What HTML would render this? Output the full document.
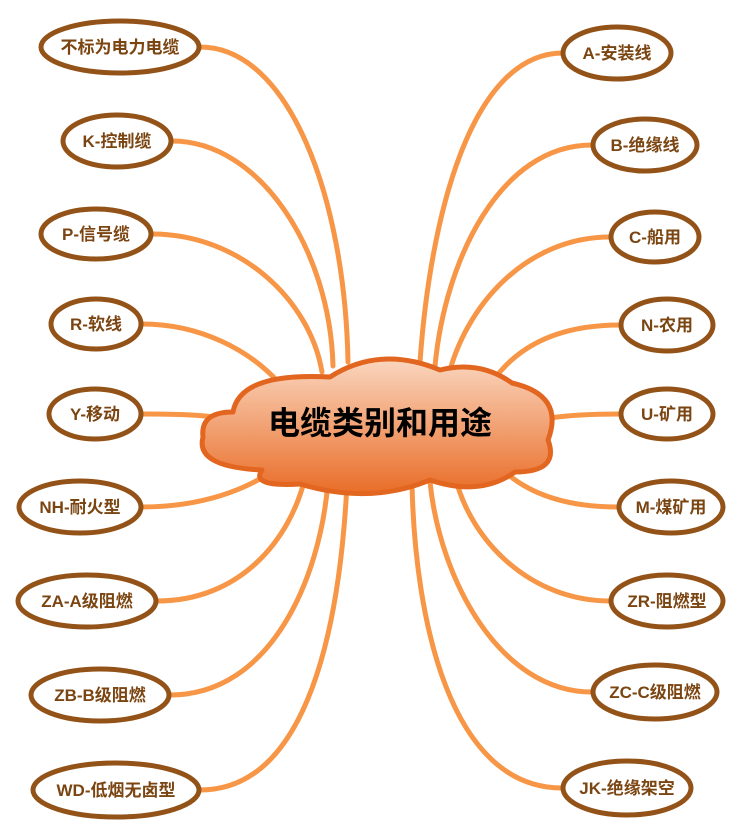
<!DOCTYPE html>
<html><head><meta charset="utf-8"><style>
body{margin:0;background:#fff}
svg{display:block}
text{font-family:"Liberation Sans","Noto Sans CJK SC",sans-serif;font-weight:bold}
</style></head><body>
<svg width="749" height="840" viewBox="0 0 749 840">
<defs>
<linearGradient id="g" x1="0" y1="0" x2="0" y2="1">
<stop offset="0" stop-color="#fad6bf"/><stop offset="1" stop-color="#e96d28"/>
</linearGradient>
</defs>
<g fill="none" stroke="#f79646" stroke-width="5" stroke-linecap="round">
<path d="M200,47 C290,47 345,200 348,362"/>
<path d="M172,141 C260,141 330,250 333,366"/>
<path d="M152,234 C240,234 310,300 322,372"/>
<path d="M142,324 C200,324 250,350 280,384"/>
<path d="M142,414 C180,414 200,415 225,418"/>
<path d="M142,507 C200,507 250,490 280,465"/>
<path d="M157,601 C240,601 290,540 305,478"/>
<path d="M170,695 C270,695 320,580 328,482"/>
<path d="M200,790 C310,790 340,620 347,484"/>
<path d="M563,53 C470,53 430,220 420,362"/>
<path d="M592,145 C500,145 445,260 435,366"/>
<path d="M610,237 C530,237 470,300 450,370"/>
<path d="M620,325 C560,325 520,345 495,378"/>
<path d="M620,414 C590,414 570,415 550,418"/>
<path d="M618,507 C560,507 520,490 495,462"/>
<path d="M610,601 C530,601 470,540 455,476"/>
<path d="M592,692 C500,692 440,580 430,482"/>
<path d="M562,788 C450,788 415,620 412,484"/>
</g>
<path d="M233,412 Q240,372 330,377 Q380,345 440,370 Q480,360 512,383 Q565,395 548,440 Q560,472 515,472 Q480,497 430,480 Q370,505 300,484 Q250,487 262,470 Q195,467 203,437 Q200,412 233,412 Z" fill="url(#g)" stroke="#e2661f" stroke-width="5" stroke-linejoin="round"/>
<text x="380" y="434" font-size="32" text-anchor="middle" fill="#000">电缆类别和用途</text>
<g fill="#fff" stroke="#935318" stroke-width="5">
<ellipse cx="120" cy="47" rx="79" ry="26"/>
<ellipse cx="117" cy="141" rx="54" ry="26"/>
<ellipse cx="96" cy="234" rx="55" ry="25"/>
<ellipse cx="96" cy="324" rx="45" ry="25"/>
<ellipse cx="95" cy="414" rx="46" ry="25"/>
<ellipse cx="80" cy="507" rx="61" ry="26"/>
<ellipse cx="87" cy="601" rx="69" ry="26"/>
<ellipse cx="100" cy="695" rx="69" ry="26"/>
<ellipse cx="116" cy="790" rx="83" ry="27"/>
<ellipse cx="617" cy="53" rx="54" ry="26"/>
<ellipse cx="645" cy="145" rx="52" ry="26"/>
<ellipse cx="655" cy="237" rx="44" ry="25"/>
<ellipse cx="667" cy="325" rx="46" ry="26"/>
<ellipse cx="667" cy="414" rx="46" ry="25"/>
<ellipse cx="671" cy="507" rx="52" ry="26"/>
<ellipse cx="667" cy="601" rx="56" ry="26"/>
<ellipse cx="655" cy="692" rx="62" ry="27"/>
<ellipse cx="627" cy="788" rx="64" ry="27"/>
</g>
<g font-size="17" fill="#7b4512" text-anchor="middle">
<text x="120" y="53">不标为电力电缆</text>
<text x="117" y="147">K-控制缆</text>
<text x="96" y="240">P-信号缆</text>
<text x="96" y="330">R-软线</text>
<text x="95" y="420">Y-移动</text>
<text x="80" y="513">NH-耐火型</text>
<text x="87" y="607">ZA-A级阻燃</text>
<text x="100" y="701">ZB-B级阻燃</text>
<text x="116" y="796">WD-低烟无卤型</text>
<text x="617" y="59">A-安装线</text>
<text x="645" y="151">B-绝缘线</text>
<text x="655" y="243">C-船用</text>
<text x="667" y="331">N-农用</text>
<text x="667" y="420">U-矿用</text>
<text x="671" y="513">M-煤矿用</text>
<text x="667" y="607">ZR-阻燃型</text>
<text x="655" y="698">ZC-C级阻燃</text>
<text x="627" y="794">JK-绝缘架空</text>
</g>
</svg>
</body></html>
